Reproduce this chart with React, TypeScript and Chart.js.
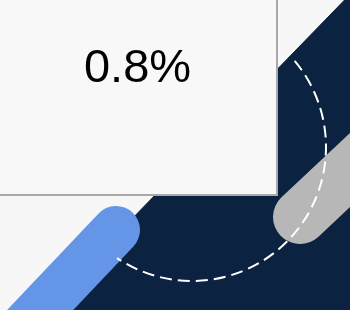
import React, { useEffect, useRef } from "react";
import { Chart, registerables } from "chart.js";

Chart.register(...registerables);

// Navy band (polygon vertices, data units)
const navyX = [364, 24, 400, 400];
const navyY = [330, -20, -20, 330];
// Blue thick stroke
const blueX = [-30, 116];
const blueY = [-74, 80];
// Gray thick stroke
const grayX = [300, 400];
const grayY = [93, 187];
// Dashed ring
const ringCenter = [192, 163];
const ringRadius = [134];
const ringAngles = [-40, 124];
// Value box
const boxX = [-5, 277];
const boxY = [115, 320];
const labelText = ["0.8%"];
const labelPos = [137.5, 228];

const BG = "#f7f7f7";
const NAVY = "#0b2240";
const BLUE = "#6495e6";
const GRAY = "#b7b7b7";

const pts = (xs: number[], ys: number[]) => xs.map((x, i) => ({ x, y: ys[i] }));

const decorPlugin = {
  id: "decor",
  beforeDraw(chart: any) {
    const { ctx, width, height } = chart;
    ctx.save();
    ctx.fillStyle = BG;
    ctx.fillRect(0, 0, width, height);
    ctx.restore();
  },
  afterDatasetsDraw(chart: any) {
    const { ctx } = chart;
    const xs = chart.scales.x;
    const ys = chart.scales.y;
    // dashed ring
    const cx = xs.getPixelForValue(ringCenter[0]);
    const cy = ys.getPixelForValue(ringCenter[1]);
    const r = xs.getPixelForValue(ringCenter[0] + ringRadius[0]) - cx;
    ctx.save();
    ctx.strokeStyle = "#ffffff";
    ctx.lineWidth = 2;
    ctx.setLineDash([12, 6]);
    ctx.beginPath();
    ctx.arc(cx, cy, r, (ringAngles[0] * Math.PI) / 180, (ringAngles[1] * Math.PI) / 180);
    ctx.stroke();
    ctx.restore();
    // box
    const x0 = xs.getPixelForValue(boxX[0]);
    const x1 = xs.getPixelForValue(boxX[1]);
    const y0 = ys.getPixelForValue(boxY[1]);
    const y1 = ys.getPixelForValue(boxY[0]);
    ctx.save();
    ctx.fillStyle = "#f8f8f8";
    ctx.fillRect(x0, y0, x1 - x0, y1 - y0);
    ctx.strokeStyle = "#a9a9a9";
    ctx.lineWidth = 2;
    ctx.strokeRect(x0, y0, x1 - x0, y1 - y0);
    // label
    ctx.fillStyle = "#000000";
    ctx.font = '47px "Liberation Sans", Arial, sans-serif';
    ctx.textAlign = "center";
    ctx.textBaseline = "alphabetic";
    ctx.fillText(labelText[0], xs.getPixelForValue(labelPos[0]), ys.getPixelForValue(labelPos[1]));
    ctx.restore();
  },
};

export default function App() {
  const ref = useRef<HTMLCanvasElement | null>(null);
  useEffect(() => {
    document.body.style.margin = "0";
    document.body.style.background = BG;
    const chart = new Chart(ref.current as HTMLCanvasElement, {
      type: "scatter",
      data: {
        datasets: [
          {
            data: pts(blueX, blueY),
            showLine: true,
            borderColor: BLUE,
            borderWidth: 48,
            borderCapStyle: "round",
            pointRadius: 0,
            order: 1,
          } as any,
          {
            data: pts(grayX, grayY),
            showLine: true,
            borderColor: GRAY,
            borderWidth: 54,
            borderCapStyle: "round",
            pointRadius: 0,
            order: 2,
          } as any,
          {
            data: pts(navyX, navyY),
            showLine: true,
            borderColor: NAVY,
            backgroundColor: NAVY,
            borderWidth: 1,
            fill: "shape",
            pointRadius: 0,
            order: 3,
          } as any,
        ],
      },
      options: {
        animation: false,
        responsive: false,
        devicePixelRatio: 1,
        layout: { padding: 0 },
        plugins: { legend: { display: false }, tooltip: { enabled: false }, title: { display: false } },
        events: [],
        scales: {
          x: { type: "linear", min: 0, max: 350, display: false },
          y: { type: "linear", min: 0, max: 310, display: false },
        },
      },
      plugins: [decorPlugin],
    });
    return () => chart.destroy();
  }, []);
  return (
    <div style={{ position: "fixed", left: 0, top: 0, width: 350, height: 310 }}>
      <canvas ref={ref} width={350} height={310} style={{ display: "block" }} />
    </div>
  );
}
